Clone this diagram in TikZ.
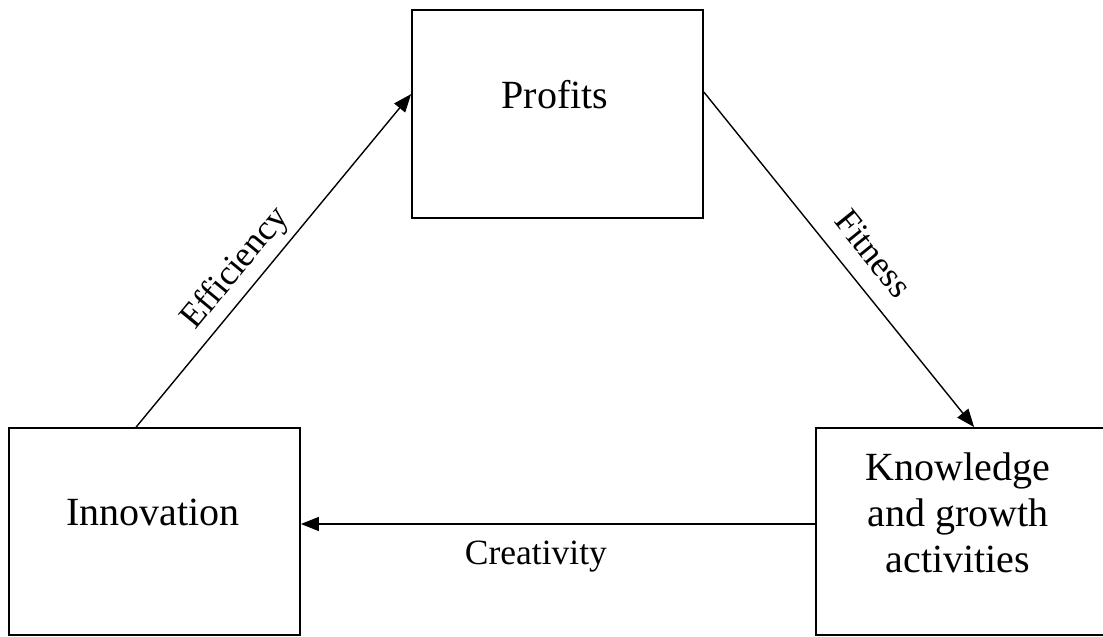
\documentclass[tikz,border=0pt]{standalone}
\usepackage{fontspec}
\setmainfont{Liberation Serif}
\usetikzlibrary{arrows.meta}
\begin{document}
\begin{tikzpicture}[x=1pt,y=-1pt,
  box/.style={draw=black, line width=1.8pt, rectangle, inner sep=0pt},
  lbl/.style={font=\fontsize{40}{46}\selectfont, inner sep=0pt, align=center},
  edgelbl/.style={font=\fontsize{35.5}{40}\selectfont, inner sep=2pt},
  flow/.style={draw=black, line width=1.4pt, -{Triangle[length=18pt,width=14pt]}}]
  \useasboundingbox (0,0) rectangle (1103,637);
  \fill[white] (0,0) rectangle (1103,637);

  % the three boxes
  \node[box, minimum width=291pt, minimum height=208pt] (profits) at (557.5,114) {};
  \node[box, minimum width=291pt, minimum height=207pt] (innovation) at (154.5,531.5) {};
  \node[box, minimum width=290pt, minimum height=207pt] (knowledge) at (961,531.5) {};

  % box texts
  \node[lbl] (tprofits) at (555,95) {Profits};
  \node[lbl] (tinnovation) at (153,512) {Innovation};
  \node[lbl] (tknowledge) at (958,513) {Knowledge\\and growth\\activities};

  % connectors
  \draw[flow] ([xshift=128pt]innovation.north west) -- ([yshift=-85pt]profits.north west)
    node[edgelbl, pos=0.43, sloped, above=5pt] (lefficiency) {Efficiency};
  \draw[flow] ([yshift=-83pt]profits.north east) -- ([xshift=159pt]knowledge.north west)
    node[edgelbl, pos=0.54, sloped, above=16pt] (lfitness) {Fitness};
  \draw[flow] ([yshift=7.5pt]knowledge.west) -- ([yshift=7.5pt]innovation.east)
    node[edgelbl, pos=0.543, below=14pt] (lcreativity) {Creativity};
\end{tikzpicture}
\end{document}
